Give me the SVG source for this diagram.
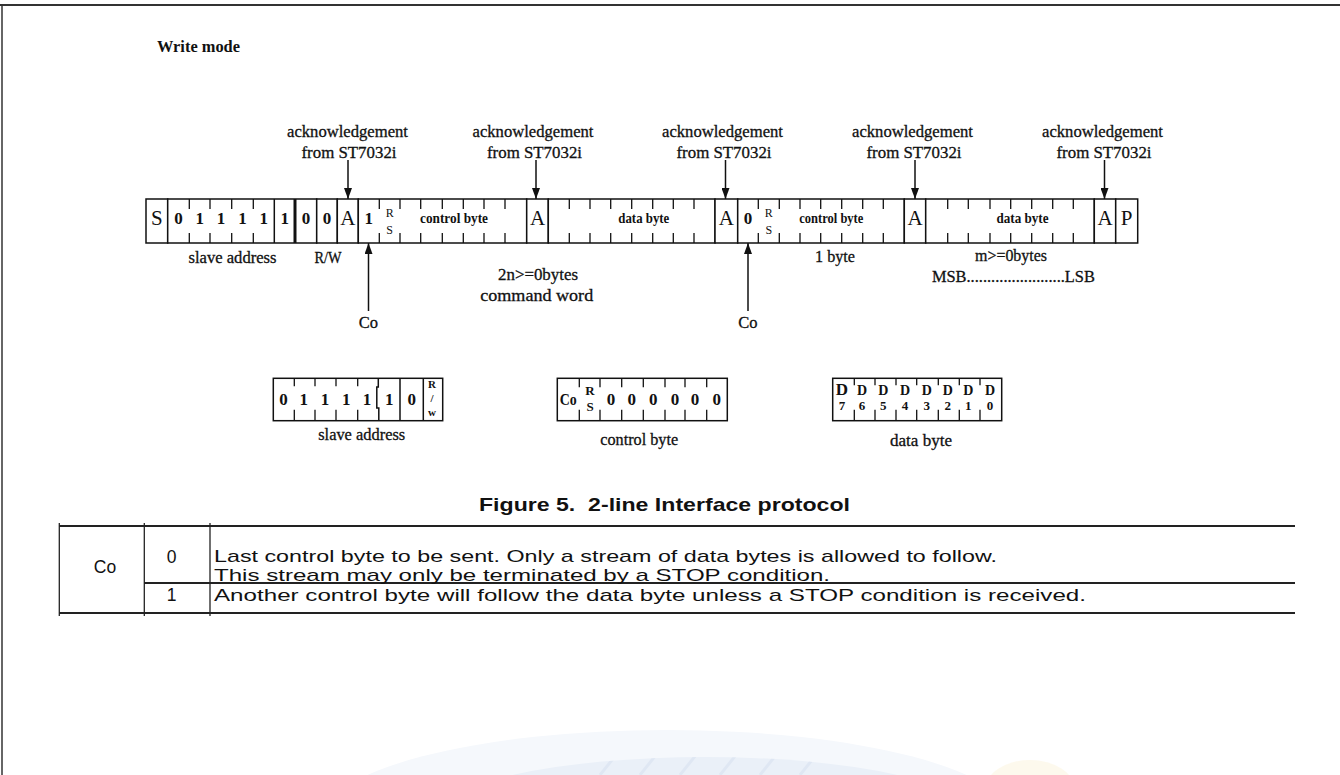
<svg xmlns="http://www.w3.org/2000/svg" width="1340" height="775" viewBox="0 0 1340 775">
<defs>
<style>
.cell{fill:#fff;stroke:#111;stroke-width:1.5}
.tk{stroke:#111;stroke-width:1.3;fill:none}
.ln{stroke:#111;stroke-width:1.5;fill:none}
.t{font-family:"Liberation Serif","Times New Roman",serif;fill:#111;text-anchor:middle}
.big{font-size:21px}
.bit{font-size:17px;font-weight:bold}
.rs{font-size:12px}
.lbl{font-size:16.5px;stroke:#111;stroke-width:0.3}
.in{font-size:14px;font-weight:bold}
.s{font-family:"Liberation Sans",Arial,sans-serif;fill:#111}
.tb{stroke:#222;stroke-width:1.8;fill:none}
</style>
<marker id="ah" viewBox="0 0 11 8" refX="11" refY="4" markerWidth="11" markerHeight="8" orient="auto" markerUnits="userSpaceOnUse"><path d="M0,0 L11,4 L0,8 z" fill="#111"/></marker>
<clipPath id="wmclip"><ellipse cx="705" cy="817" rx="269" ry="60"/></clipPath>
</defs>
<rect width="1340" height="775" fill="#fff"/>
<g id="watermark">
<ellipse cx="667" cy="820" rx="346" ry="90" fill="#f5f8fc"/>
<ellipse cx="1030" cy="790" rx="45" ry="30" fill="#fcf8e8" opacity="0.8"/>
<ellipse cx="705" cy="817" rx="269" ry="60" fill="#eaf0f8"/>
<g clip-path="url(#wmclip)" stroke="#dfe7f3" stroke-width="3">
<line x1="600" y1="775" x2="620" y2="750"/><line x1="640" y1="775" x2="660" y2="750"/><line x1="680" y1="775" x2="700" y2="750"/><line x1="720" y1="775" x2="740" y2="750"/><line x1="760" y1="775" x2="780" y2="750"/><line x1="800" y1="775" x2="820" y2="750"/>
</g>
</g>
<g id="page-frame">
<line x1="0" y1="5" x2="1340" y2="5" stroke="#333" stroke-width="2"/>
<line x1="2" y1="4" x2="2" y2="775" stroke="#333" stroke-width="1.5"/>
</g>
<g id="title"><text class="t" x="157" y="52" style="text-anchor:start;font-size:16px;font-weight:bold" textLength="83" lengthAdjust="spacingAndGlyphs">Write mode</text></g>

<g id="start">
<rect class="cell" x="146" y="199" width="21.7" height="44"/>
<text class="t big" x="156.9" y="225">S</text>
</g>
<g id="slave-address-field">
<rect class="cell" x="167.7" y="199" width="149" height="44"/>
<path class="tk" d="M189.3 199v10M189.3 243v-10M210 199v10M210 243v-10M231.7 199v10M231.7 243v-10M253.3 199v10M253.3 243v-10"/>
<line class="ln" x1="274.3" y1="199" x2="274.3" y2="243"/>
<line x1="295" y1="199" x2="295" y2="243" stroke="#111" stroke-width="3"/>
<text class="t bit" x="178.5" y="223.5">0</text>
<text class="t bit" x="199.7" y="223.5">1</text>
<text class="t bit" x="220.9" y="223.5">1</text>
<text class="t bit" x="242.5" y="223.5">1</text>
<text class="t bit" x="263.8" y="223.5">1</text>
<text class="t bit" x="284.7" y="223.5">1</text>
<text class="t bit" x="305.9" y="223.5">0</text>
</g>
<g id="rw-bit">
<rect class="cell" x="316.7" y="199" width="20.6" height="44"/>
<text class="t bit" x="327" y="223.5">0</text>
</g>
<g id="ack1">
<rect class="cell" x="337.3" y="199" width="21" height="44"/>
<text class="t big" x="347.8" y="225">A</text>
</g>
<g id="control-byte-1">
<rect class="cell" x="358.3" y="199" width="168.4" height="44"/>
<path class="tk" d="M379.3 199v10M379.3 243v-10M400 199v10M400 243v-10M420.7 199v10M420.7 243v-10M442.3 199v10M442.3 243v-10M463.3 199v10M463.3 243v-10M484 199v10M484 243v-10M505 199v10M505 243v-10"/>
<text class="t bit" x="368.8" y="223.5">1</text>
<text class="t rs" x="389.7" y="217">R</text>
<text class="t rs" x="389.7" y="234">S</text>
<text class="t in" x="454" y="223" textLength="68" lengthAdjust="spacingAndGlyphs">control byte</text>
</g>
<g id="ack2">
<rect class="cell" x="526.7" y="199" width="21.6" height="44"/>
<text class="t big" x="537.5" y="225">A</text>
</g>
<g id="data-byte-1">
<rect class="cell" x="548.3" y="199" width="166.7" height="44"/>
<path class="tk" d="M569.3 199v10M569.3 243v-10M590 199v10M590 243v-10M610.7 199v10M610.7 243v-10M631.7 199v10M631.7 243v-10M652.7 199v10M652.7 243v-10M673.3 199v10M673.3 243v-10M694 199v10M694 243v-10"/>
<text class="t in" x="643.8" y="223" textLength="51" lengthAdjust="spacingAndGlyphs">data byte</text>
</g>
<g id="ack3">
<rect class="cell" x="715" y="199" width="22.7" height="44"/>
<text class="t big" x="726.4" y="225">A</text>
</g>
<g id="control-byte-2">
<rect class="cell" x="737.7" y="199" width="166.6" height="44"/>
<path class="tk" d="M758.3 199v10M758.3 243v-10M779.3 199v10M779.3 243v-10M800 199v10M800 243v-10M820.7 199v10M820.7 243v-10M841.7 199v10M841.7 243v-10M862.7 199v10M862.7 243v-10M883.3 199v10M883.3 243v-10"/>
<text class="t bit" x="748" y="223.5">0</text>
<text class="t rs" x="768.8" y="217">R</text>
<text class="t rs" x="768.8" y="234">S</text>
<text class="t in" x="831.3" y="223" textLength="64" lengthAdjust="spacingAndGlyphs">control byte</text>
</g>
<g id="ack4">
<rect class="cell" x="904.3" y="199" width="21.4" height="44"/>
<text class="t big" x="915" y="225">A</text>
</g>
<g id="data-byte-2">
<rect class="cell" x="925.7" y="199" width="168.6" height="44"/>
<path class="tk" d="M947.7 199v10M947.7 243v-10M968.3 199v10M968.3 243v-10M990 199v10M990 243v-10M1010.7 199v10M1010.7 243v-10M1031.7 199v10M1031.7 243v-10M1052.7 199v10M1052.7 243v-10M1073.3 199v10M1073.3 243v-10"/>
<text class="t in" x="1022.5" y="223" textLength="52" lengthAdjust="spacingAndGlyphs">data byte</text>
</g>
<g id="ack5">
<rect class="cell" x="1094.3" y="199" width="21.4" height="44"/>
<text class="t big" x="1105" y="225">A</text>
</g>
<g id="stop">
<rect class="cell" x="1115.7" y="199" width="22" height="44"/>
<text class="t big" x="1126.7" y="225">P</text>
</g>

<g id="ack-labels">
<text class="t lbl" x="347.5" y="137" textLength="121" lengthAdjust="spacingAndGlyphs">acknowledgement</text>
<text class="t lbl" x="349" y="158" textLength="95" lengthAdjust="spacingAndGlyphs">from ST7032i</text>
<text class="t lbl" x="533" y="137" textLength="121" lengthAdjust="spacingAndGlyphs">acknowledgement</text>
<text class="t lbl" x="534.5" y="158" textLength="95" lengthAdjust="spacingAndGlyphs">from ST7032i</text>
<text class="t lbl" x="722.5" y="137" textLength="121" lengthAdjust="spacingAndGlyphs">acknowledgement</text>
<text class="t lbl" x="724" y="158" textLength="95" lengthAdjust="spacingAndGlyphs">from ST7032i</text>
<text class="t lbl" x="912.5" y="137" textLength="121" lengthAdjust="spacingAndGlyphs">acknowledgement</text>
<text class="t lbl" x="914" y="158" textLength="95" lengthAdjust="spacingAndGlyphs">from ST7032i</text>
<text class="t lbl" x="1102.5" y="137" textLength="121" lengthAdjust="spacingAndGlyphs">acknowledgement</text>
<text class="t lbl" x="1104" y="158" textLength="95" lengthAdjust="spacingAndGlyphs">from ST7032i</text>
</g>
<g id="row-labels">
<text class="t lbl" x="232.5" y="263" textLength="88" lengthAdjust="spacingAndGlyphs">slave address</text>
<text class="t lbl" x="328" y="263" textLength="27" lengthAdjust="spacingAndGlyphs">R/W</text>
<text class="t lbl" x="538" y="279.5" textLength="80" lengthAdjust="spacingAndGlyphs">2n&gt;=0bytes</text>
<text class="t lbl" x="536.7" y="301" textLength="113" lengthAdjust="spacingAndGlyphs">command word</text>
<text class="t lbl" x="835" y="262" textLength="40" lengthAdjust="spacingAndGlyphs">1 byte</text>
<text class="t lbl" x="1011" y="260.5" textLength="72" lengthAdjust="spacingAndGlyphs">m&gt;=0bytes</text>
<text class="t lbl" x="1013.4" y="281.5" textLength="163" lengthAdjust="spacingAndGlyphs">MSB........................LSB</text>
<text class="t lbl" x="368.5" y="328">Co</text>
<text class="t lbl" x="748" y="328">Co</text>
</g>

<g id="connectors">
<line class="ln" x1="348" y1="160" x2="348" y2="199" marker-end="url(#ah)"/>
<line class="ln" x1="536" y1="160" x2="536" y2="199" marker-end="url(#ah)"/>
<line class="ln" x1="725.5" y1="160" x2="725.5" y2="199" marker-end="url(#ah)"/>
<line class="ln" x1="915" y1="160" x2="915" y2="199" marker-end="url(#ah)"/>
<line class="ln" x1="1104.5" y1="160" x2="1104.5" y2="199" marker-end="url(#ah)"/>
<line class="ln" x1="368.5" y1="311" x2="368.5" y2="243" marker-end="url(#ah)"/>
<line class="ln" x1="748" y1="311" x2="748" y2="243" marker-end="url(#ah)"/>
</g>

<g id="slave-address-format">
<rect class="cell" x="273.3" y="378.3" width="169.4" height="42.4"/>
<path class="tk" d="M294.3 378.3v8M294.3 420.7v-11M315 378.3v8M315 420.7v-11M336 378.3v8M336 420.7v-11M357.7 378.3v8M357.7 420.7v-11"/>
<path class="ln" d="M378.3 378.3V387h-1.5v21h2v12.7"/>
<line class="ln" x1="400" y1="378.3" x2="400" y2="420.7"/>
<line class="ln" x1="423.3" y1="378.3" x2="423.3" y2="420.7"/>
<text class="t bit" x="283.5" y="405">0</text>
<text class="t bit" x="303.8" y="405">1</text>
<text class="t bit" x="325" y="405">1</text>
<text class="t bit" x="346.2" y="405">1</text>
<text class="t bit" x="367" y="405">1</text>
<text class="t bit" x="389.3" y="405">1</text>
<text class="t bit" x="411.7" y="405">0</text>
<text class="t" x="432" y="388" style="font-size:11px;font-weight:bold">R</text>
<text class="t" x="432" y="402" style="font-size:11px;font-weight:bold">/</text>
<text class="t" x="432" y="416" style="font-size:11px;font-weight:bold">w</text>
<text class="t lbl" x="361.7" y="440" textLength="87" lengthAdjust="spacingAndGlyphs">slave address</text>
</g>
<g id="control-byte-format">
<rect class="cell" x="557.3" y="378.3" width="170" height="42.4"/>
<path class="tk" d="M579.3 378.3v9M579.3 420.7v-11M600 378.3v9M600 420.7v-11M621.7 378.3v9M621.7 420.7v-11M643.3 378.3v9M643.3 420.7v-11M665 378.3v9M665 420.7v-11M685 378.3v9M685 420.7v-11M706.7 378.3v9M706.7 420.7v-11"/>
<text class="t bit" x="568.3" y="405" textLength="17" lengthAdjust="spacingAndGlyphs">Co</text>
<text class="t" x="590" y="395" style="font-size:13px;font-weight:bold">R</text>
<text class="t" x="590" y="410.5" style="font-size:13px;font-weight:bold">S</text>
<text class="t bit" x="611" y="405">0</text>
<text class="t bit" x="631.7" y="405">0</text>
<text class="t bit" x="653.3" y="405">0</text>
<text class="t bit" x="675" y="405">0</text>
<text class="t bit" x="695" y="405">0</text>
<text class="t bit" x="716.7" y="405">0</text>
<text class="t lbl" x="639.2" y="444.5" textLength="78" lengthAdjust="spacingAndGlyphs">control byte</text>
</g>
<g id="data-byte-format">
<rect class="cell" x="832.7" y="378.3" width="169" height="42.4"/>
<path class="tk" d="M854.3 378.3v7M854.3 420.7v-11M875 378.3v7M875 420.7v-11M896 378.3v7M896 420.7v-11M916.7 378.3v7M916.7 420.7v-11M938.3 378.3v7M938.3 420.7v-11M959.3 378.3v7M959.3 420.7v-11M980 378.3v7M980 420.7v-11"/>
<text class="t" x="842" y="395" style="font-size:17px;font-weight:bold">D</text>
<text class="t" x="842" y="410" style="font-size:13px;font-weight:bold">7</text>
<text class="t" x="862" y="395" style="font-size:14px;font-weight:bold">D</text>
<text class="t" x="862" y="410" style="font-size:13px;font-weight:bold">6</text>
<text class="t" x="883.3" y="395" style="font-size:14px;font-weight:bold">D</text>
<text class="t" x="883.3" y="410" style="font-size:13px;font-weight:bold">5</text>
<text class="t" x="905" y="395" style="font-size:14px;font-weight:bold">D</text>
<text class="t" x="905" y="410" style="font-size:13px;font-weight:bold">4</text>
<text class="t" x="926.7" y="395" style="font-size:14px;font-weight:bold">D</text>
<text class="t" x="926.7" y="410" style="font-size:13px;font-weight:bold">3</text>
<text class="t" x="947.7" y="395" style="font-size:14px;font-weight:bold">D</text>
<text class="t" x="947.7" y="410" style="font-size:13px;font-weight:bold">2</text>
<text class="t" x="968.3" y="395" style="font-size:14px;font-weight:bold">D</text>
<text class="t" x="968.3" y="410" style="font-size:13px;font-weight:bold">1</text>
<text class="t" x="990" y="395" style="font-size:14px;font-weight:bold">D</text>
<text class="t" x="990" y="410" style="font-size:13px;font-weight:bold">0</text>
<text class="t lbl" x="921" y="445.5" textLength="62" lengthAdjust="spacingAndGlyphs">data byte</text>
</g>

<g id="caption">
<text class="s" x="479" y="511" style="font-size:19px;font-weight:bold" textLength="371" lengthAdjust="spacingAndGlyphs">Figure 5.&#160; 2-line Interface protocol</text>
</g>
<g id="co-table">
<line class="tb" x1="59" y1="526" x2="1295" y2="526"/>
<line class="tb" x1="144" y1="583" x2="1295" y2="583"/>
<line class="tb" x1="59" y1="613" x2="1295" y2="613"/>
<line class="tb" x1="59.3" y1="523" x2="59.3" y2="616" style="stroke-width:1.3"/>
<line class="tb" x1="144.3" y1="523" x2="144.3" y2="616" style="stroke-width:1.3"/>
<line class="tb" x1="210" y1="523" x2="210" y2="616" style="stroke-width:1.3"/>
<text class="s" x="105" y="572.5" style="font-size:17.5px;text-anchor:middle">Co</text>
<text class="s" x="171.7" y="562.5" style="font-size:17.5px;text-anchor:middle">0</text>
<text class="s" x="171.7" y="601" style="font-size:17.5px;text-anchor:middle">1</text>
<text class="s" x="214" y="562" style="font-size:17px" textLength="783" lengthAdjust="spacingAndGlyphs">Last control byte to be sent. Only a stream of data bytes is allowed to follow.</text>
<text class="s" x="214" y="580.5" style="font-size:17px" textLength="616" lengthAdjust="spacingAndGlyphs">This stream may only be terminated by a STOP condition.</text>
<text class="s" x="214" y="601" style="font-size:17px" textLength="872" lengthAdjust="spacingAndGlyphs">Another control byte will follow the data byte unless a STOP condition is received.</text>
</g>
</svg>
